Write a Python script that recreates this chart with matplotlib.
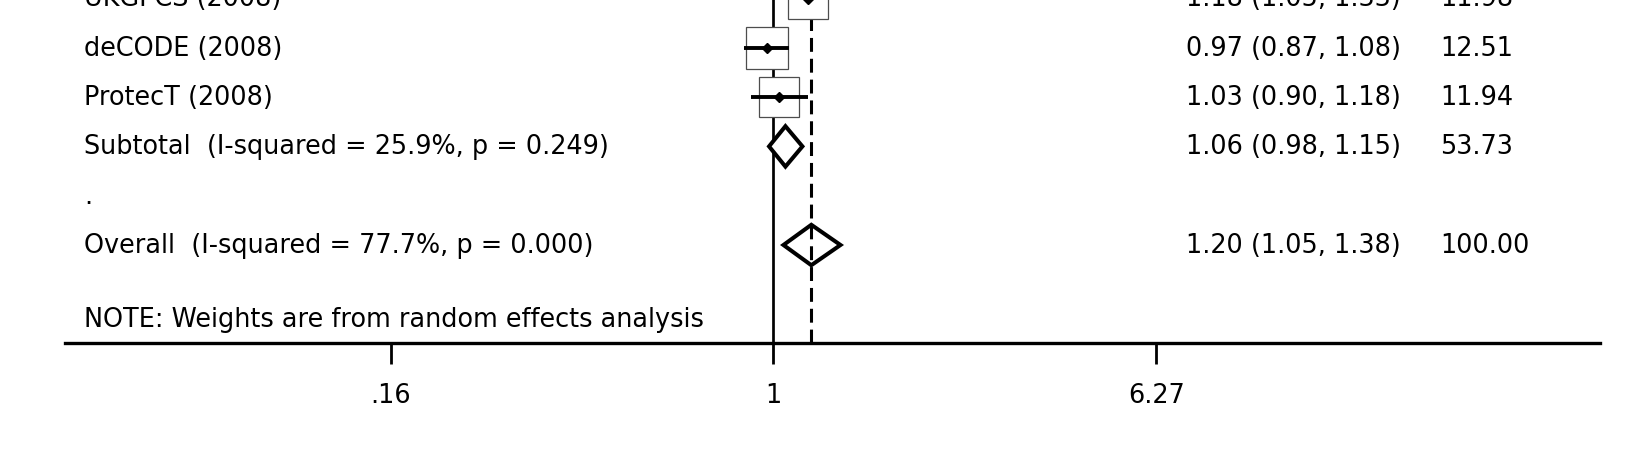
import numpy as np
import matplotlib
matplotlib.use("Agg")
import matplotlib.pyplot as plt
from matplotlib.patches import Polygon
from matplotlib.transforms import blended_transform_factory
from matplotlib.ticker import FixedLocator, FixedFormatter, NullLocator

# ---- data ----
labels = ["UKGPCS (2008)", "deCODE (2008)", "ProtecT (2008)",
          "Subtotal  (I-squared = 25.9%, p = 0.249)", ".",
          "Overall  (I-squared = 77.7%, p = 0.000)"]
kinds = ["study", "study", "study", "pooled", "blank", "pooled"]
es = [1.18, 0.97, 1.03, 1.06, None, 1.20]
lo = [1.05, 0.87, 0.90, 0.98, None, 1.05]
hi = [1.33, 1.08, 1.18, 1.15, None, 1.38]
weights = [11.98, 12.51, 11.94, 53.73, None, 100.00]
note = "NOTE: Weights are from random effects analysis"
overall_es = 1.20
xticks = [0.16, 1, 6.27]
xtick_labels = [".16", "1", "6.27"]

FS = 18.4
plt.rcParams['font.family'] = ['DejaVu Sans']
plt.rcParams['lines.scale_dashes'] = False

fig = plt.figure(figsize=(16.5, 4.52), dpi=100)
ax = fig.add_axes([65 / 1650, 108 / 452, 1535 / 1650, 344 / 452])
ax.set_xscale('log')
ax.set_xlim(0.0336, 52.5)
row_px = 49.3
ax.set_ylim(344.5 / row_px, 0.5 / row_px)

for s in ['top', 'left', 'right']:
    ax.spines[s].set_visible(False)
ax.spines['bottom'].set_linewidth(2.4)
ax.yaxis.set_visible(False)
ax.xaxis.set_major_locator(FixedLocator(xticks))
ax.xaxis.set_major_formatter(FixedFormatter(xtick_labels))
ax.xaxis.set_minor_locator(NullLocator())
ax.tick_params(axis='x', length=15, width=2, pad=13, labelsize=FS, color='black')
ax.patch.set_visible(False)

# null line and overall line
ax.axvline(1, color='black', lw=1.95, zorder=1)
ax.axvline(overall_es, color='black', lw=2.2, dashes=(10, 5), zorder=3)

tr = blended_transform_factory(ax.transAxes, ax.transData)
x_lab, x_es, x_w = 0.0124, 0.7303, 0.8958
for i, (lab, k) in enumerate(zip(labels, kinds)):
    ax.text(x_lab, i, lab, transform=tr, fontsize=FS, va='center', ha='left', clip_on=False)
    if k == 'blank':
        continue
    ax.text(x_es, i, "{:.2f} ({:.2f}, {:.2f})".format(es[i], lo[i], hi[i]),
            transform=tr, fontsize=FS, va='center', ha='left', clip_on=False)
    ax.text(x_w, i, "{:.2f}".format(weights[i]), transform=tr, fontsize=FS,
            va='center', ha='left', clip_on=False)
    if k == 'study':
        side = 11.7 * np.sqrt(weights[i]) * 0.72
        ax.plot([es[i]], [i], marker='s', ms=side, mfc='white', mec='0.3', mew=0.9,
                zorder=4, clip_on=False)
        ax.plot([lo[i], hi[i]], [i, i], color='black', lw=2.8, solid_capstyle='butt',
                zorder=5, clip_on=False)
        ax.plot([es[i]], [i], marker='D', ms=5.5, color='black', zorder=6, clip_on=False)
    else:
        h = 0.41
        poly = Polygon([(lo[i], i), (es[i], i - h), (hi[i], i), (es[i], i + h)],
                       closed=True, facecolor='white', edgecolor='black', lw=2.9,
                       joinstyle='miter', zorder=2)
        ax.add_patch(poly)

ax.text(x_lab, 6.5, note, transform=tr, fontsize=FS, va='center', ha='left')

fig.savefig("out.png", dpi=100)
